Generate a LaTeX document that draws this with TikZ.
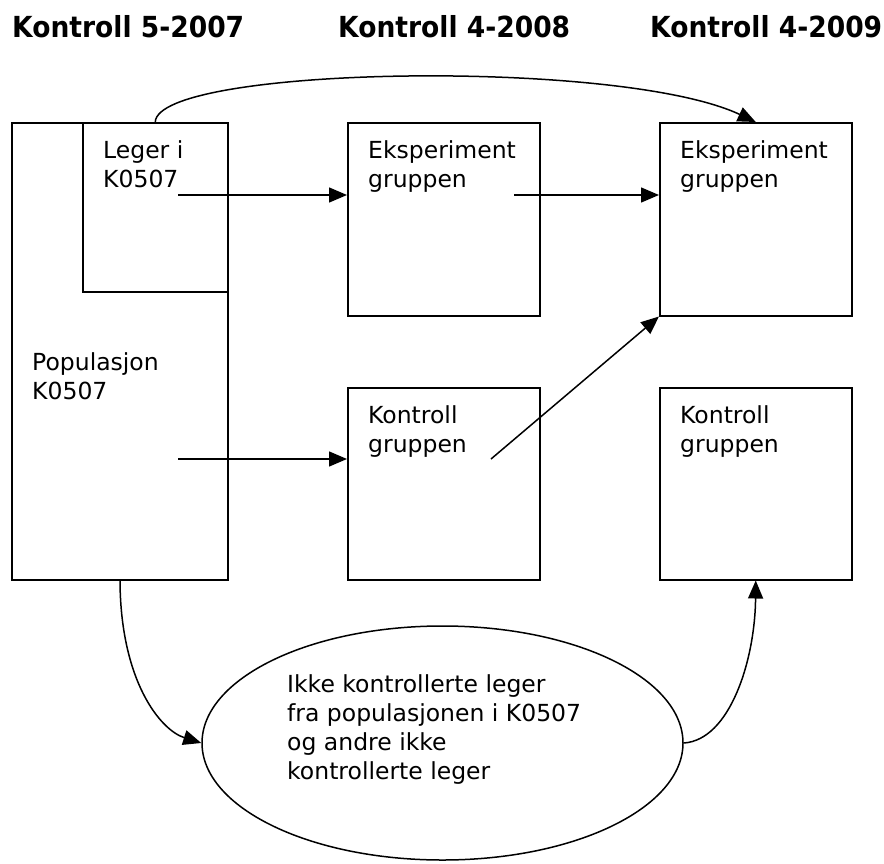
\documentclass[tikz,border=0pt]{standalone}
\usepackage{fontspec}
\setmainfont{DejaVu Sans}
\newfontfamily\headfont[FakeStretch=0.915]{DejaVu Sans}
\usetikzlibrary{arrows.meta,shapes.geometric}
\begin{document}
\begin{tikzpicture}[x=1pt,y=-1pt,
  box/.style={draw,line width=1.5pt,rectangle,inner sep=0pt,anchor=north west},
  txt/.style={anchor=base west,inner sep=0pt,align=left,font=\fontsize{23.5}{29}\selectfont},
  head/.style={anchor=base west,inner sep=0pt,font=\headfont\fontsize{29}{34}\selectfont\bfseries},
  conn/.style={line width=1.5pt,-{Triangle[length=18pt,width=15pt]}}]
\useasboundingbox (0,0) rectangle (884,863);
% headers
\node[head] (h1) at (12,37) {Kontroll 5-2007};
\node[head] (h2) at (338,37) {Kontroll 4-2008};
\node[head] (h3) at (650,37) {Kontroll 4-2009};
% boxes
\node[box,minimum width=216pt,minimum height=457pt] (pop) at (11,122) {};
\node[box,minimum width=145pt,minimum height=169pt] (leger) at (82,122) {};
\node[box,minimum width=192pt,minimum height=193pt] (exp1) at (347,122) {};
\node[box,minimum width=192pt,minimum height=193pt] (exp2) at (659,122) {};
\node[box,minimum width=192pt,minimum height=192pt] (kon1) at (347,387) {};
\node[box,minimum width=192pt,minimum height=192pt] (kon2) at (659,387) {};
\node[draw,line width=1.5pt,ellipse,minimum width=481pt,minimum height=234pt,inner sep=0pt] (ell) at (442.5,743) {};
% texts (anchored at the baseline of the last line)
\node[txt] (tleger) at (103,187) {Leger i\\K0507};
\node[txt] (tpop) at (32,399) {Populasjon\\K0507};
\node[txt] (texp1) at (368,187) {Eksperiment\\gruppen};
\node[txt] (texp2) at (680,187) {Eksperiment\\gruppen};
\node[txt] (tkon1) at (368,452) {Kontroll\\gruppen};
\node[txt] (tkon2) at (680,452) {Kontroll\\gruppen};
\node[txt] (tell) at (287,779) {Ikke kontrollerte leger\\fra populasjonen i K0507\\og andre ikke\\kontrollerte leger};
% connector start points
\coordinate (s1) at (178,195);
\coordinate (s2) at (514,195);
\coordinate (s3) at (178,459);
\coordinate (s4) at (491,459);
\coordinate (s5) at (120,579);
% connectors
\draw[conn] (leger.north) .. controls (158,66) and (620,58) .. (exp2.north);
\draw[conn] (s1) -- (exp1.west |- s1);
\draw[conn] (s2) -- (exp2.west |- s2);
\draw[conn] (s3) -- (kon1.west |- s3);
\draw[conn] (s4) -- (exp2.south west);
\draw[conn] (s5) .. controls (120,680) and (160,730) .. (ell.west);
\draw[conn] (ell.east) .. controls (730,740) and (755,660) .. (kon2.south);
\end{tikzpicture}
\end{document}
